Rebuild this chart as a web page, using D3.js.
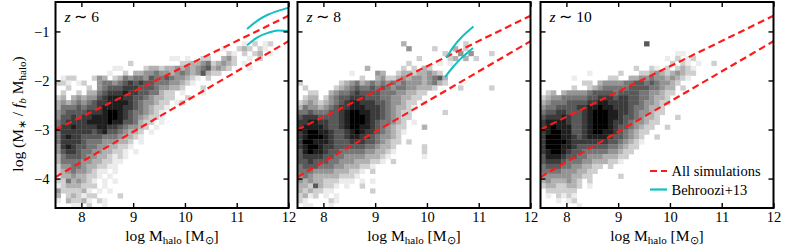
<!DOCTYPE html>
<html><head><meta charset="utf-8">
<script src="https://cdn.jsdelivr.net/npm/d3@7"></script>
<style>
body{margin:0;background:#fff}
svg text{font-family:"Liberation Serif","Times New Roman",serif;fill:#000}
</style>
</head><body>
<svg id="chart" width="789" height="247"></svg>
<script>
// ---------------- data ----------------
const redshifts = ["6", "8", "10"];
const xTicks = [8, 9, 10, 11, 12];
const yTicks = [-4, -3, -2, -1];
const xDomain = [7.5, 12];
const yDomain = [-4.6, -0.4];
// histogram grid: columns start at log Mhalo = 7.5, rows start at -1.0 going down, 0.1 dex bins
const binX0 = 7.5, binYTop = -1.0, binStep = 0.1;

const hist6 = [
"", "",
"..... ..... ..... ..... ..... ..... ..... .1.2. 12...",
"..... ..... ..... ..... ..... ..... ..1.. 232.2 1....",
"..... ..... ..... ..... ..... ..... ...21 .2.23 .1...",
"..... ..... ..... ..... ..11. 1..22 ..342 ..1.2",
"..... ..... ....2 ..... ....2 23345 23432 .1...",
"..... ..... .11.. ..233 23343 43456 3432. ..1..",
"..... ..... 1..2. 33445 44345 43463 22...",
".122. ..243 .2354 55465 56544 321.2",
"221.1 2..45 54567 67665 55443 21...",
"..2.. .2.45 66677 76665 44332 ...2.",
".2..2 .3356 77787 76655 322.1 ...1.",
"23.34 34467 88877 66543 322.. 2....",
"34345 45677 88887 65443 22.12",
"35556 56678 88877 65432 21...",
"45666 67778 99876 55432 1....",
"46676 77888 99876 54322 1....",
"56777 78888 98866 5322. 1....",
"57787 77788 77654 432.1",
"57777 77678 66543 32.1.",
"57877 66665 55433 21...",
"57777 65554 44332 .1...",
"47876 65544 33221",
"46776 55443 3221. 1....",
"35666 54433 2121.",
"35555 44332 211..",
"24455 43322 11...",
"23454 43211 .1...",
"13343 3221. 1....",
"22534 321.1 .1...",
"12333 222.1",
"42222 31.1. 1....",
"3.232 122.. ..2..",
"1.322 31.21",
"...11 .2..1"
];
const hist8 = [
"", "",
"..... ..... ..... ..... 3.... ..... ..2..",
"..... ..... ..... ..... .4... .2... 3.2..",
"..... ..... ..... ..... ..... ...2. .4.4. ..2..",
"..... ..... ..... ..... ...2. ....2 3.3.2",
"..... ..... ..... ..... .2... ..1.1",
"..... ..... ...3. ..... 2.2.3 2....",
"..... ..... 1.... 43..2 33233 432..",
"..... ..... ..2.. 34223 43443 4563.",
"2.... ...23 45345 45454 54443 4532.",
".2... ..234 56556 56545 54433 32... .2... ..2..",
"..22. .3455 67666 65554 43322",
".233. 24566 77766 65544 3322.",
"23432 34567 88777 66544 322.1",
"35443 45677 88877 76543 321..",
"55655 56678 99887 76543 22... ...2.",
"67776 66678 99987 76543 22...",
"77887 76678 99987 65543 2.1..",
"78888 76678 99887 65432 2...3",
"78998 87667 89877 65432 1....",
"78999 87667 88776 54432",
"79988 87666 77766 54322 .2...",
"78998 77666 66655 4332. ....2",
"68988 76655 55544 3321. ....2",
"67777 66554 44433 321.. ....1",
"66766 65544 43332 21.2.",
"56665 55443 33221",
"55544 44333 221.2",
"45433 33322 21...",
"43433 22211 1.1.1",
"33263 221.1 ..2..",
"32322 11... ....2",
"2312. 1.1..",
"21... .21..",
".11.. .1..."
];
const hist10 = [
"", "",
"..... ..... ..... ..... 6....",
"",
"..... ..... ..... ..... ..... .11..",
"..... ..... ..... ..... ....1 .2.12",
"..... ..... ..... ..... ..... 2.21. 1..2.",
"..... ..... ..... ...2. .21.2 .2321",
"..... ....1 ..... 2...2 23432 34322",
"..... .1... ...22 ..334 45443 4321.",
"..... ...22 .3444 45566 56544 32...",
"..... .2..2 34555 55666 65543 3.2..",
".23.3 44445 66665 66665 54432 2....",
"23445 55556 67776 77665 54332",
"34555 66667 78877 77665 44322",
"45566 66778 89887 77655 4332.",
"56677 66678 99988 77654 4322.",
"67778 76678 99988 76654 332.. .2...",
"78888 76678 99987 76544 322..",
"78988 86678 99987 66543 22..2",
"78998 86678 99887 65432 2....",
"79998 87678 88876 65432 ..2..",
"79999 87777 77766 54321",
"79998 87666 66655 4322.",
"78998 76655 55544 322..",
"68887 66554 44333 22...",
"67776 55544 33322 1....",
"56665 54433 22.2.",
"55554 44332 2....",
"44444 43322 ..... 2....",
"34333 432.2",
"23322 332.1",
".2222 22...",
".1.21 21...",
"...1. 12...",
"..... ..1.."
];
const histograms = [hist6, hist8, hist10];

// "All simulations" fit lines (same in every panel)
const simX = [7.5, 12];
const simUpperY = [-3.0, -0.68];
const simLowerY = [-3.97, -1.2];

// Behroozi+13 curves
const b6UpperX = [11.2, 11.4, 11.6, 11.8, 12.0];
const b6UpperY = [-0.95, -0.78, -0.66, -0.58, -0.52];
const b6LowerX = [11.2, 11.4, 11.6, 11.8, 12.0];
const b6LowerY = [-1.28, -1.12, -1.03, -0.98, -0.99];
const b8UpperX = [10.38, 10.5, 10.65, 10.8, 10.9];
const b8UpperY = [-1.53, -1.33, -1.14, -0.99, -0.9];
const b8LowerX = [10.35, 10.5, 10.65, 10.8, 10.89];
const b8LowerY = [-1.93, -1.73, -1.56, -1.42, -1.34];
const behroozi = [
  [[b6UpperX, b6UpperY], [b6LowerX, b6LowerY]],
  [[b8UpperX, b8UpperY], [b8LowerX, b8LowerY]],
  []
];
const legendLabels = ["All simulations", "Behroozi+13"];

// ---------------- drawing ----------------
const RED = "#ff1a1a", CYAN = "#13bfc0";
const svg = d3.select("#chart");
const panelLeft = [55.5, 297.5, 540.5];
const pTop = 2, pW = 233, pH = 206;
const x = d3.scaleLinear().domain(xDomain).range([0, pW]);
const y = d3.scaleLinear().domain(yDomain).range([pH, 0]);
const gray = v => { const g = Math.max(0, Math.round(236 - (v - 1) * 29.5)); return `rgb(${g},${g},${g})`; };
const zip = (xs, ys) => xs.map((v, i) => [v, ys[i]]);
const line = d3.line().x(d => x(d[0])).y(d => y(d[1]));
const curve = d3.line().x(d => x(d[0])).y(d => y(d[1])).curve(d3.curveMonotoneX);

svg.append("defs").append("clipPath").attr("id", "clip")
  .append("rect").attr("width", pW).attr("height", pH);

histograms.forEach((hist, p) => {
  const g = svg.append("g").attr("transform", `translate(${panelLeft[p]},${pTop})`);
  const cells = [];
  hist.forEach((row, r) => {
    row.replace(/ /g, "").split("").forEach((ch, c) => {
      if (ch !== ".") cells.push({ r, c, v: +ch });
    });
  });
  const body = g.append("g").attr("clip-path", "url(#clip)");
  body.selectAll("rect.cell").data(cells).enter().append("rect")
    .attr("class", "cell")
    .attr("x", d => x(binX0 + d.c * binStep))
    .attr("width", d => x(binX0 + (d.c + 1) * binStep) - x(binX0 + d.c * binStep) + 0.3)
    .attr("y", d => y(binYTop - d.r * binStep))
    .attr("height", d => y(binYTop - (d.r + 1) * binStep) - y(binYTop - d.r * binStep) + 0.3)
    .attr("fill", d => gray(d.v));

  [simUpperY, simLowerY].forEach(ys => {
    body.append("path").attr("d", line(zip(simX, ys)))
      .attr("fill", "none").attr("stroke", RED).attr("stroke-width", 2.2)
      .attr("stroke-dasharray", "7,4");
  });
  behroozi[p].forEach(([xs, ys]) => {
    body.append("path").attr("d", curve(zip(xs, ys)))
      .attr("fill", "none").attr("stroke", CYAN).attr("stroke-width", 2);
  });

  // axes with inward ticks
  const styleAxis = a => {
    a.select(".domain").remove();
    a.selectAll(".tick line").attr("stroke", "#000").attr("stroke-width", 1.4);
    a.selectAll(".tick text").style("font-size", "14.5px").attr("fill", "#000");
  };
  g.append("g").attr("transform", `translate(0,${pH})`)
    .call(d3.axisBottom(x).tickValues(xTicks).tickSizeInner(-5).tickSizeOuter(0).tickPadding(4).tickFormat(d3.format("d")))
    .call(styleAxis);
  g.append("g")
    .call(d3.axisTop(x).tickValues(xTicks).tickSizeInner(-5).tickSizeOuter(0).tickFormat(""))
    .call(styleAxis);
  g.append("g")
    .call(d3.axisLeft(y).tickValues(yTicks).tickSizeInner(-5).tickSizeOuter(0).tickPadding(6)
      .tickFormat(p === 0 ? d3.format("d") : ""))
    .call(styleAxis);
  g.append("g").attr("transform", `translate(${pW},0)`)
    .call(d3.axisRight(y).tickValues(yTicks).tickSizeInner(-5).tickSizeOuter(0).tickFormat(""))
    .call(styleAxis);

  g.append("rect").attr("width", pW).attr("height", pH)
    .attr("fill", "none").attr("stroke", "#000").attr("stroke-width", 2);

  // redshift label
  const zl = g.append("text").attr("x", 9).attr("y", 20).style("font-size", "15.5px");
  zl.append("tspan").style("font-style", "italic").text("z");
  zl.append("tspan").text(" \u223C " + redshifts[p]);

  // x label
  const xl = g.append("text").attr("x", pW / 2).attr("y", 238.5)
    .attr("text-anchor", "middle").style("font-size", "15.5px");
  xl.append("tspan").text("log M");
  xl.append("tspan").attr("dy", 3).style("font-size", "11px").text("halo");
  xl.append("tspan").attr("dy", -3).text(" [M");
  xl.append("tspan").attr("dy", 3).style("font-size", "11px").text("\u2299");
  xl.append("tspan").attr("dy", -3).text("]");

  if (p === 2) {
    const lg = g.append("g");
    [[RED, "7,4"], [CYAN, null]].forEach(([col, dash], i) => {
      const ly = 169 + i * 18.5;
      const l = lg.append("line").attr("x1", 109.5).attr("x2", 126.5)
        .attr("y1", ly).attr("y2", ly).attr("stroke", col).attr("stroke-width", 2.2);
      if (dash) l.attr("stroke-dasharray", dash);
      lg.append("text").attr("x", 131).attr("y", ly + 5).style("font-size", "14.5px").text(legendLabels[i]);
    });
  }
});

// y label
const yl = svg.append("text").attr("transform", "translate(23,114) rotate(-90)")
  .attr("text-anchor", "middle").style("font-size", "15.5px");
yl.append("tspan").text("log (M");
yl.append("tspan").attr("dy", 3).style("font-size", "11px").text("\u2217");
yl.append("tspan").attr("dy", -3).text(" / ");
yl.append("tspan").style("font-style", "italic").text("f");
yl.append("tspan").attr("dy", 3).style("font-size", "11px").style("font-style", "italic").text("b");
yl.append("tspan").attr("dy", -3).text(" M");
yl.append("tspan").attr("dy", 3).style("font-size", "11px").text("halo");
yl.append("tspan").attr("dy", -3).text(")");
</script>
</body></html>
